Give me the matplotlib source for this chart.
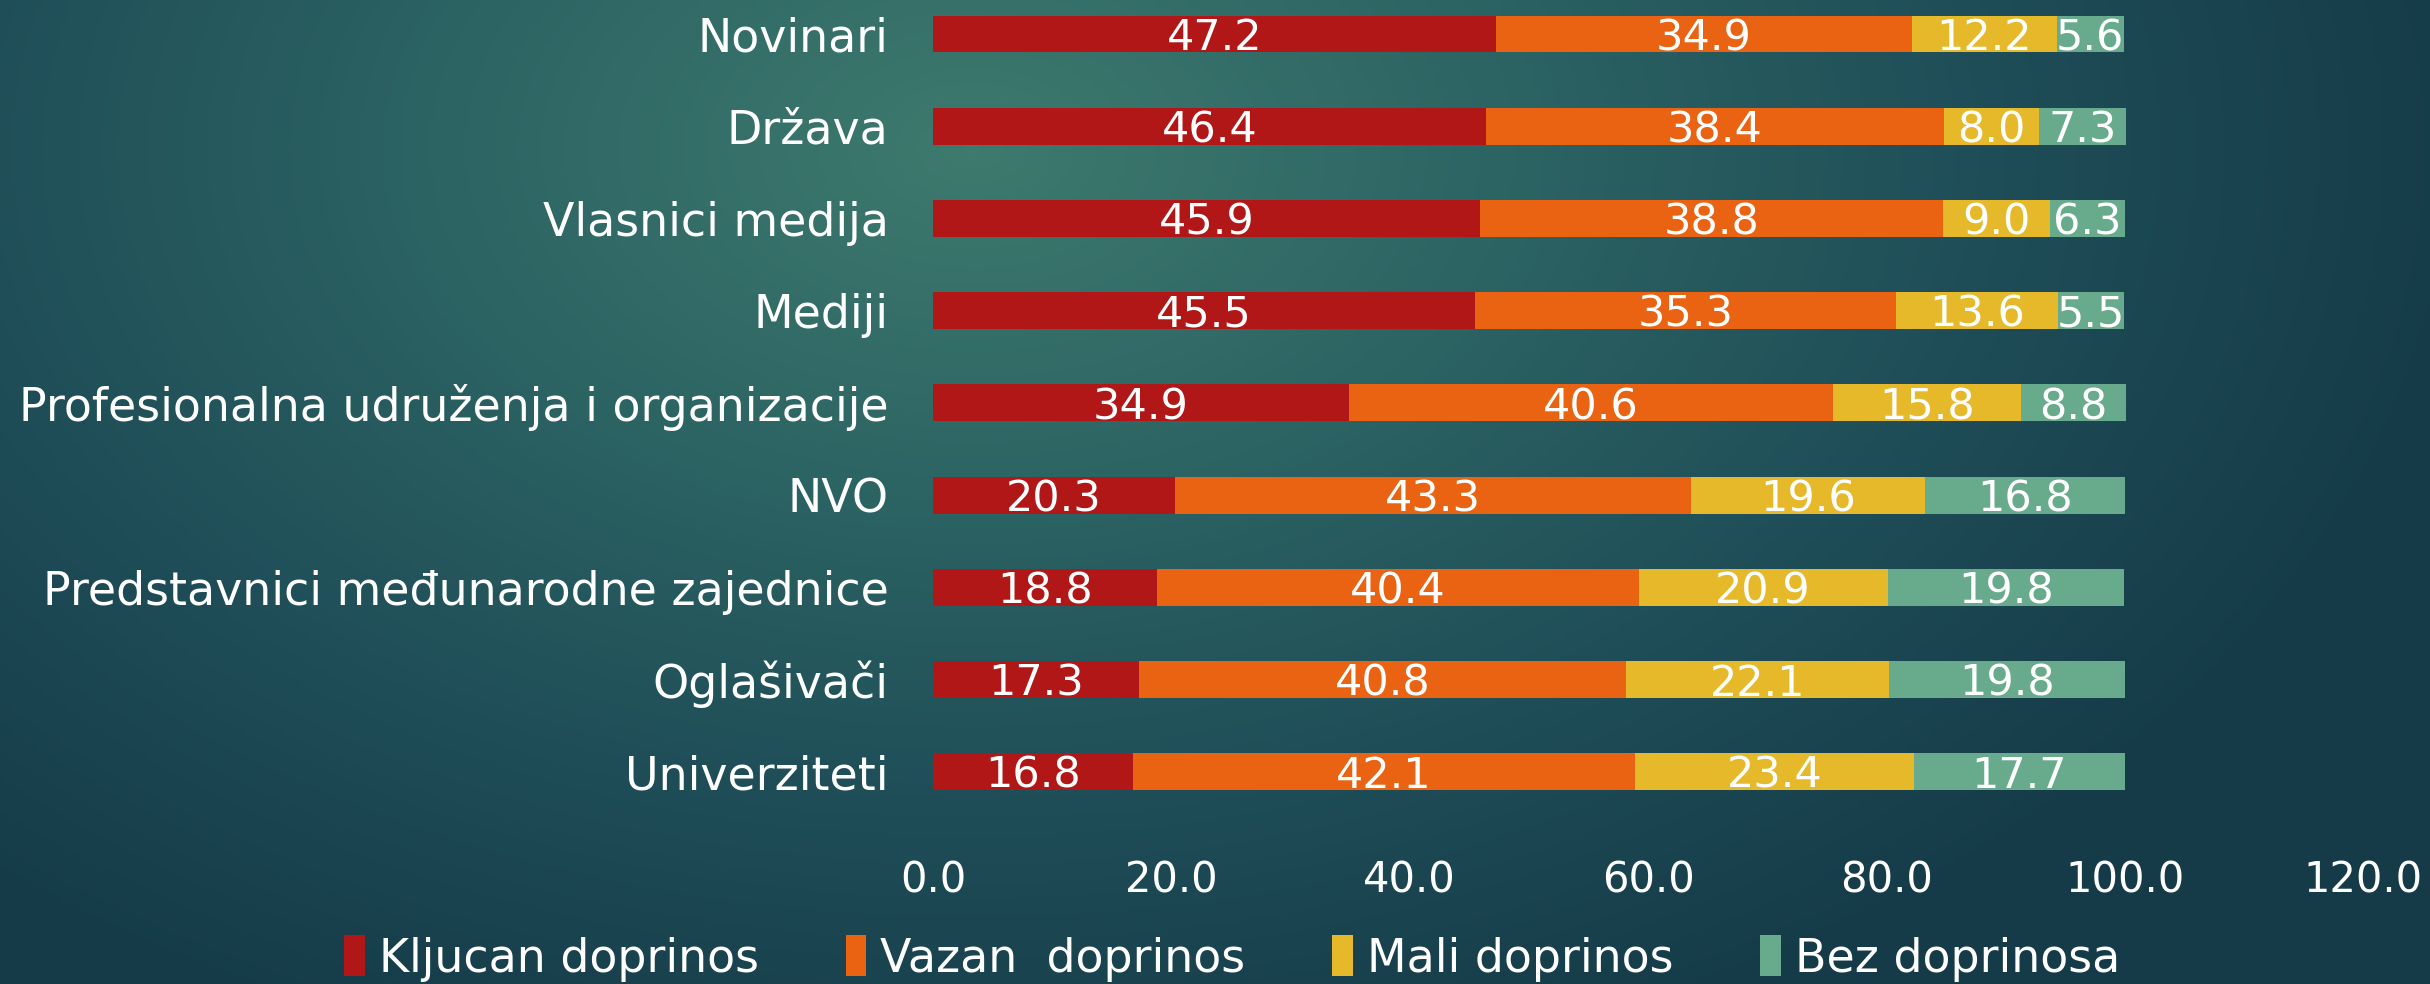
import numpy as np
import matplotlib.pyplot as plt
from matplotlib.colors import LinearSegmentedColormap

categories = ["Novinari", "Država", "Vlasnici medija", "Mediji",
              "Profesionalna udruženja i organizacije", "NVO",
              "Predstavnici međunarodne zajednice", "Oglašivači", "Univerziteti"]
kljucan = [47.2, 46.4, 45.9, 45.5, 34.9, 20.3, 18.8, 17.3, 16.8]
vazan = [34.9, 38.4, 38.8, 35.3, 40.6, 43.3, 40.4, 40.8, 42.1]
mali = [12.2, 8.0, 9.0, 13.6, 15.8, 19.6, 20.9, 22.1, 23.4]
bez = [5.6, 7.3, 6.3, 5.5, 8.8, 16.8, 19.8, 19.8, 17.7]
series_names = ["Kljucan doprinos", "Vazan  doprinos", "Mali doprinos", "Bez doprinosa"]
colors = ["#B01716", "#E96312", "#E6B92B", "#68AB8C"]

plt.rcParams["font.family"] = ["DejaVu Sans"]

fig = plt.figure(figsize=(24.3, 9.84), dpi=100)

# background gradient
bg = fig.add_axes([0, 0, 1, 1])
bg.axis("off")
yy, xx = np.mgrid[0:1:300j, 0:1:700j]
d = np.sqrt(((xx - 0.40) / 1.0) ** 2 + ((yy - 0.15) / 1.6) ** 2)
cmap = LinearSegmentedColormap.from_list("bg", ["#3e7a6e", "#2d6564", "#1f4e58", "#153b48"])
bg.imshow(np.clip(d / 0.62, 0, 1), cmap=cmap, aspect="auto", extent=[0, 1, 1, 0])

ax = fig.add_axes([0.384, 1 - 840 / 984, 0.9725 - 0.384, 840 / 984])
ax.patch.set_alpha(0)
y = np.arange(len(categories))
left = np.zeros(len(categories))
for vals, name, c in zip([kljucan, vazan, mali, bez], series_names, colors):
    vals = np.array(vals)
    bars = ax.barh(y, vals, left=left, height=0.4, color=c, label=name)
    texts = ax.bar_label(bars, labels=[f"{v:.1f}" for v in vals], label_type="center",
                         color="white", fontsize=31)
    for t in texts:
        t.xyann = (0, -3)
    left += vals

ax.set_xlim(0, 120)
ax.set_ylim(8.74, -0.369)
ax.set_xticks(np.arange(0, 121, 20))
ax.set_xticklabels([f"{v:.1f}" for v in np.arange(0, 121, 20)])
ax.set_yticks(y)
ax.set_yticklabels(categories)
ax.tick_params(axis="y", length=0, colors="white", labelsize=33, pad=32)
ax.tick_params(axis="x", length=0, colors="white", labelsize=30, pad=14)
for s in ax.spines.values():
    s.set_visible(False)

fig.legend(loc="center", bbox_to_anchor=(0.507, 0.026), ncol=4, frameon=False,
           fontsize=33, labelcolor="white", handlelength=0.45, handleheight=1.0,
           handletextpad=0.3, columnspacing=1.9)

fig.savefig("out.png", dpi=100)
